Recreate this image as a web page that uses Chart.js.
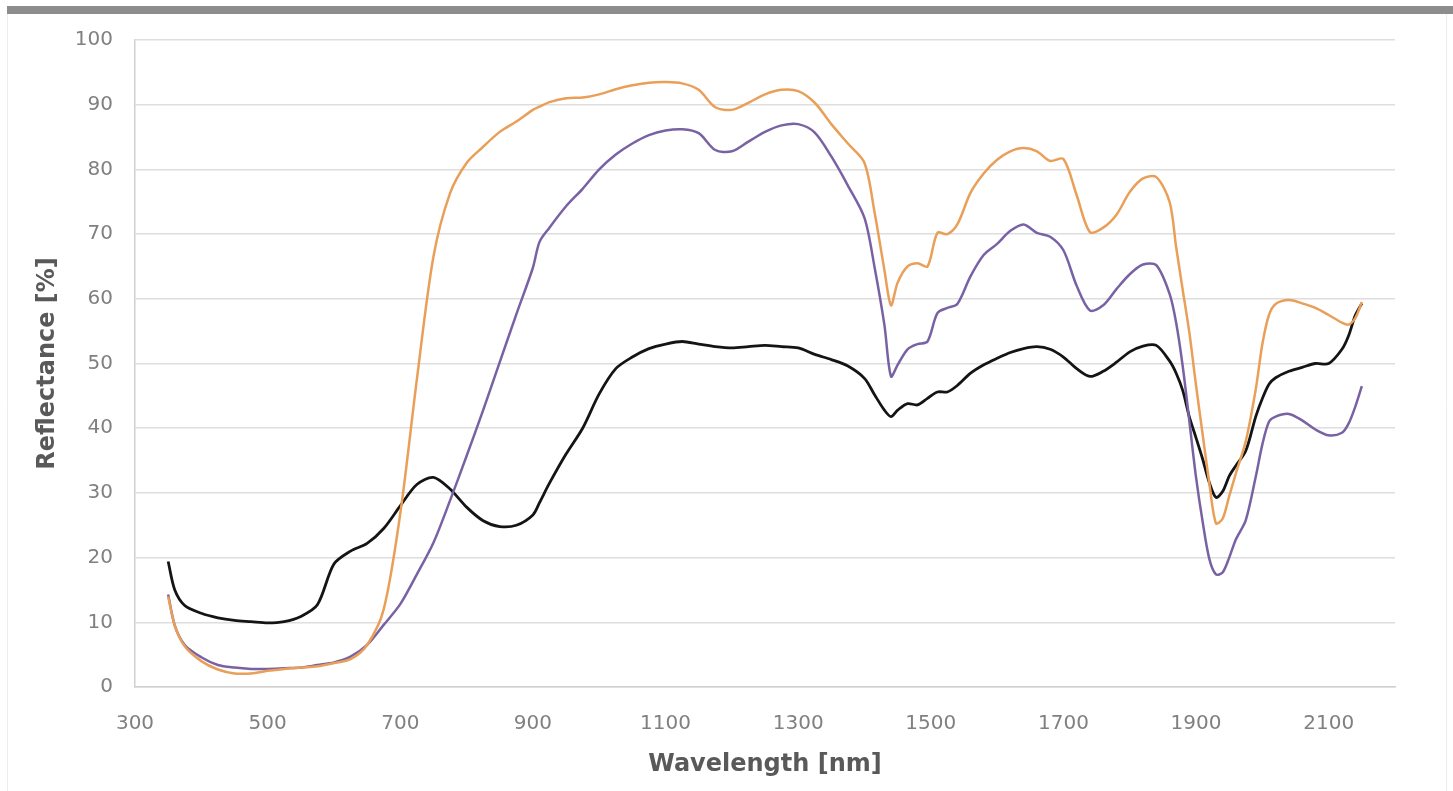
<!DOCTYPE html>
<html>
<head>
<meta charset="utf-8">
<title>Reflectance spectra</title>
<script src="https://cdn.jsdelivr.net/npm/chart.js@4/dist/chart.umd.min.js"></script>
<style>
  html, body { margin: 0; padding: 0; background: #fff; }
  #spectra { display: block; }
</style>
</head>
<body>
<canvas id="spectra" width="1453" height="791"></canvas>
<script>
// wavelength samples shared by the three spectra (nm)
const wavelengths = [
  350, 360, 375, 400, 425, 450, 475, 500, 525, 550,
  575, 600, 625, 650, 675, 700, 725, 750, 775, 800,
  825, 850, 875, 900, 910, 925, 950, 975, 1000, 1025,
  1050, 1075, 1100, 1125, 1150, 1175, 1200, 1225, 1250, 1275,
  1300, 1325, 1350, 1375, 1400, 1415, 1430, 1440, 1450, 1465,
  1480, 1495, 1510, 1525, 1540, 1560, 1580, 1600, 1620, 1640,
  1660, 1680, 1700, 1720, 1740, 1760, 1780, 1800, 1820, 1840,
  1860, 1870, 1880, 1890, 1900, 1910, 1920, 1930, 1940, 1950,
  1960, 1975, 1990, 2000, 2010, 2020, 2040, 2060, 2080, 2100,
  2120, 2130, 2140, 2150,
];

// reflectance in %
const orangeSpectrum = [
  14.0, 9.5, 6.3, 4.0, 2.7, 2.1, 2.1, 2.5, 2.8, 3.0,
  3.2, 3.7, 4.3, 6.5, 12.0, 26.8, 47.5, 66.5, 76.3, 81.0,
  83.5, 85.8, 87.4, 89.2, 89.7, 90.4, 91.0, 91.1, 91.6, 92.4,
  93.0, 93.4, 93.5, 93.3, 92.3, 89.6, 89.2, 90.3, 91.6, 92.3,
  92.1, 90.3, 87.0, 84.0, 81.0, 73.5, 64.5, 59.0, 62.5, 65.0,
  65.5, 65.0, 70.2, 70.0, 71.5, 76.4, 79.4, 81.5, 82.8, 83.3,
  82.8, 81.3, 81.6, 76.0, 70.3, 71.0, 73.0, 76.5, 78.6, 78.8,
  75.0, 68.0, 61.3, 54.7, 46.6, 39.0, 31.5, 25.3, 26.0, 29.5,
  33.0, 38.0, 46.0, 53.0, 57.5, 59.2, 59.8, 59.3, 58.6, 57.5,
  56.3, 56.0, 57.0, 59.5,
];

const purpleSpectrum = [
  14.3, 9.5, 6.5, 4.6, 3.4, 3.0, 2.8, 2.8, 2.9, 3.0,
  3.4, 3.8, 4.7, 6.5, 9.6, 12.8, 17.4, 22.3, 28.8, 35.7,
  42.8, 50.2, 57.6, 64.8, 68.8, 71.0, 74.3, 77.0, 80.0, 82.3,
  84.0, 85.3, 86.0, 86.2, 85.6, 83.0, 82.8, 84.3, 85.8, 86.8,
  87.0, 85.7, 82.0, 77.5, 72.5, 65.0, 56.0, 48.0, 49.8, 52.2,
  53.0, 53.4, 57.8, 58.6, 59.2, 63.5, 66.8, 68.5, 70.5, 71.5,
  70.2, 69.6, 67.5, 62.0, 58.2, 59.0, 61.5, 63.8, 65.3, 65.2,
  60.8, 56.3, 49.5, 41.0, 32.4, 25.5, 19.8, 17.4, 17.7, 20.0,
  22.8, 25.8, 32.5, 37.5, 41.0, 41.8, 42.2, 41.2, 39.8, 38.9,
  39.3, 40.7, 43.3, 46.5,
];

const blackSpectrum = [
  19.4, 15.0, 12.6, 11.4, 10.7, 10.3, 10.1, 9.9, 10.1, 10.9,
  12.7, 19.0, 21.0, 22.2, 24.5, 28.0, 31.3, 32.4, 30.6, 27.8,
  25.7, 24.8, 25.0, 26.6, 28.5, 31.5, 36.0, 40.0, 45.3, 49.2,
  51.0, 52.3, 53.0, 53.4, 53.0, 52.6, 52.4, 52.6, 52.8, 52.6,
  52.4, 51.4, 50.6, 49.6, 47.7, 45.2, 42.8, 41.8, 42.8, 43.8,
  43.6, 44.6, 45.6, 45.6, 46.6, 48.5, 49.8, 50.8, 51.7, 52.3,
  52.6, 52.2, 51.0, 49.2, 48.0, 48.8, 50.2, 51.8, 52.7, 52.8,
  50.4, 48.5, 45.8, 41.7, 38.5, 35.2, 31.6, 29.3, 30.2, 32.6,
  34.2, 36.5, 41.8, 44.6, 46.8, 47.8, 48.8, 49.4, 50.0, 50.0,
  52.2, 54.3, 57.4, 59.3,
];

const xTickValues = [300, 500, 700, 900, 1100, 1300, 1500, 1700, 1900, 2100];

function toPoints(values) {
  return wavelengths.map((wl, i) => ({ x: wl, y: values[i] }));
}

// grey rule along the top of the figure and a faint frame, like the source slide
const framePlugin = {
  id: "frame",
  beforeDraw(chart) {
    const ctx = chart.ctx;
    ctx.save();
    ctx.fillStyle = "#ffffff";
    ctx.fillRect(0, 0, chart.width, chart.height);
    ctx.strokeStyle = "#ececec";
    ctx.lineWidth = 1;
    ctx.beginPath();
    ctx.moveTo(7.5, 10);
    ctx.lineTo(7.5, chart.height);
    ctx.moveTo(chart.width - 6.5, 10);
    ctx.lineTo(chart.width - 6.5, chart.height);
    ctx.stroke();
    ctx.fillStyle = "#8d8d8d";
    ctx.fillRect(7, 6, chart.width - 7, 8);
    ctx.restore();
  },
};

const tickFont = { family: "'DejaVu Sans', sans-serif", size: 20 };
const titleFont = { family: "'DejaVu Sans', sans-serif", size: 24, weight: "bold" };

new Chart(document.getElementById("spectra"), {
  type: "line",
  data: {
    datasets: [
      {
        label: "orange",
        data: toPoints(orangeSpectrum),
        borderColor: "#e99f58",
        borderWidth: 2.5,
      },
      {
        label: "purple",
        data: toPoints(purpleSpectrum),
        borderColor: "#7862a4",
        borderWidth: 2.5,
      },
      {
        label: "black",
        data: toPoints(blackSpectrum),
        borderColor: "#141414",
        borderWidth: 2.8,
      },
    ],
  },
  options: {
    responsive: false,
    animation: false,
    devicePixelRatio: 1,
    elements: {
      point: { radius: 0 },
      line: { tension: 0.3, fill: false },
    },
    layout: {
      padding: { left: 0, right: 58, top: 40, bottom: 0 },
    },
    plugins: {
      legend: { display: false },
      tooltip: { enabled: false },
    },
    scales: {
      x: {
        type: "linear",
        min: 300,
        max: 2200,
        afterBuildTicks: (scale) => {
          scale.ticks = xTickValues.map((v) => ({ value: v }));
        },
        afterFit: (scale) => {
          scale.height = 104;
        },
        grid: { display: false },
        border: { display: true, color: "#d0d0d0", width: 1.5 },
        ticks: {
          font: tickFont,
          color: "#808080",
          padding: 17,
          maxRotation: 0,
          autoSkip: false,
          callback: (value) => String(value),
        },
        title: {
          display: true,
          text: "Wavelength [nm]",
          font: titleFont,
          color: "#595959",
          padding: { top: 0, bottom: 12 },
        },
      },
      y: {
        min: 0,
        max: 100,
        afterFit: (scale) => {
          scale.width = 135;
        },
        grid: {
          color: "#dedede",
          lineWidth: 1.5,
          drawTicks: false,
        },
        border: { display: true, color: "#d0d0d0", width: 1.5 },
        ticks: {
          stepSize: 10,
          font: tickFont,
          color: "#808080",
          padding: 22,
          callback: (value) => String(value),
        },
        title: {
          display: true,
          text: "Reflectance [%]",
          font: titleFont,
          color: "#595959",
          padding: { top: 33, bottom: 0 },
        },
      },
    },
  },
  plugins: [framePlugin],
});
</script>
</body>
</html>
